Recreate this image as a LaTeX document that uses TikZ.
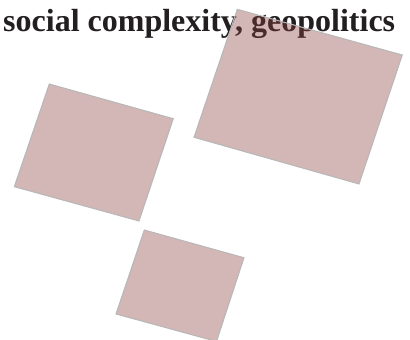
\documentclass[tikz,border=0pt]{standalone}
\usepackage{fontspec}
\setmainfont{Liberation Serif}
\begin{document}
\begin{tikzpicture}[x=1pt,y=-1pt,
  tile/.style={draw={rgb,255:red,184;green,184;blue,184}, line width=1pt,
               fill={rgb,255:red,139;green,62;blue,62}, fill opacity=0.38,
               line join=miter},
  heading/.style={anchor=base west, inner sep=0pt, text={rgb,255:red,35;green,31;blue,32},
                  font=\fontsize{32}{38}\selectfont\bfseries}]
  \useasboundingbox (0,0) rectangle (410,340);
  % heading
  \node[heading] (title) at (3,31.5) {social complexity, geopolitics};
  % tiles
  \coordinate (a1) at (49.3,84);   \coordinate (a2) at (173.3,118.7);
  \coordinate (a3) at (139,221);   \coordinate (a4) at (14.3,186.7);
  \coordinate (b1) at (237.3,9.3); \coordinate (b2) at (402.3,55);
  \coordinate (b3) at (359,184);   \coordinate (b4) at (194,137.3);
  \coordinate (c1) at (144.3,230); \coordinate (c2) at (244,257.7);
  \coordinate (c3) at (216.5,341.5); \coordinate (c4) at (116,314);
  \draw[tile] (a1) -- (a2) -- (a3) -- (a4) -- cycle;
  \draw[tile] (b1) -- (b2) -- (b3) -- (b4) -- cycle;
  \draw[tile] (c1) -- (c2) -- (c3) -- (c4) -- cycle;
\end{tikzpicture}
\end{document}
